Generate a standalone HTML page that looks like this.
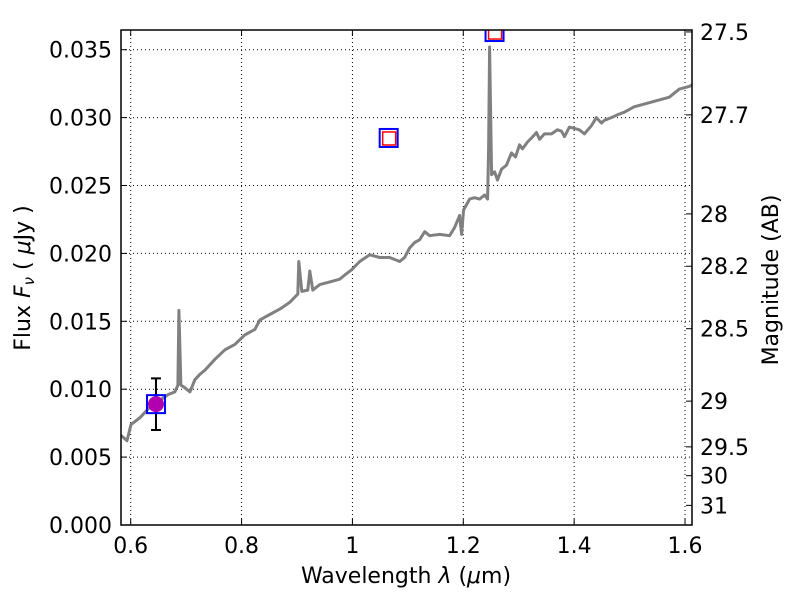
<!DOCTYPE html>
<html><head><meta charset="utf-8"><style>
body{margin:0;background:#fff}
svg text{font-family:"DejaVu Sans","Liberation Sans",sans-serif;fill:#000}
</style></head><body>
<svg id="chart" width="800" height="600" viewBox="0 0 800 600" xmlns="http://www.w3.org/2000/svg">
<rect width="800" height="600" fill="#fff"/>
<g id="grid"></g>
<g id="series"></g>
<g id="axes"></g>
<text x="406" y="583" font-size="22" text-anchor="middle">Wavelength  <tspan font-style="italic">λ</tspan> (<tspan font-style="italic">μ</tspan>m)</text>
<text transform="translate(30,278) rotate(-90)" font-size="22" text-anchor="middle">Flux  <tspan font-style="italic">F<tspan font-size="15" dy="4">ν</tspan></tspan><tspan dy="-4">  ( </tspan><tspan font-style="italic">μ</tspan>Jy )</text>
<text transform="translate(778,280) rotate(-90)" font-size="22" text-anchor="middle">Magnitude (AB)</text>
</svg>
<script>
const wavelengths=[0.5825,0.5933,0.6005,0.6168,0.6348,0.6528,0.6672,0.6798,0.6852,0.687,0.6906,0.6978,0.7068,0.7159,0.7249,0.7339,0.7519,0.7699,0.7879,0.8059,0.824,0.833,0.851,0.869,0.887,0.9015,0.9033,0.9087,0.9195,0.9231,0.9285,0.9411,0.9591,0.9771,0.9861,0.9987,1.0131,1.0311,1.0492,1.0672,1.0852,1.0942,1.1032,1.1122,1.1212,1.1303,1.1393,1.1573,1.1753,1.1843,1.1933,1.1969,1.2005,1.2114,1.2204,1.2294,1.2384,1.2438,1.2456,1.2474,1.251,1.2564,1.2618,1.269,1.278,1.287,1.2942,1.3014,1.3068,1.3158,1.323,1.332,1.3374,1.3465,1.3591,1.3699,1.3771,1.3825,1.3915,1.4095,1.4185,1.4311,1.4401,1.4491,1.4545,1.4671,1.4779,1.4905,1.5085,1.5355,1.5716,1.5896,1.6076,1.613];
const fluxes=[0.0066,0.0062,0.0074,0.0079,0.0087,0.0092,0.0096,0.0098,0.0103,0.0158,0.0103,0.0101,0.0098,0.0107,0.0111,0.0114,0.0122,0.0129,0.0133,0.014,0.0144,0.0151,0.0155,0.0159,0.0164,0.017,0.0194,0.0172,0.0173,0.0187,0.0173,0.0177,0.0179,0.0181,0.0184,0.0188,0.0194,0.0199,0.0197,0.0197,0.0194,0.0197,0.0204,0.0208,0.021,0.0216,0.0213,0.0214,0.0213,0.0219,0.0228,0.0214,0.0232,0.024,0.0241,0.024,0.0243,0.024,0.0277,0.0352,0.0258,0.026,0.0254,0.0262,0.0265,0.0274,0.0271,0.028,0.0277,0.0282,0.0285,0.0289,0.0284,0.0288,0.0288,0.0291,0.029,0.0286,0.0293,0.0291,0.0288,0.0294,0.03,0.0296,0.0298,0.03,0.0302,0.0304,0.0308,0.0311,0.0315,0.0321,0.0323,0.0324];
const photWave=[0.6456,1.0654,1.2564];
const photFlux=[0.0089,0.0285,0.0363];
const measWave=[0.6456];
const measFlux=[0.0089];
const measErr=[0.0019];
const xTicks=[0.6,0.8,1.0,1.2,1.4,1.6];
const xTickLabels=["0.6","0.8","1","1.2","1.4","1.6"];
const yTicks=[0,0.005,0.01,0.015,0.02,0.025,0.03,0.035];
const yTickLabels=["0.000","0.005","0.010","0.015","0.020","0.025","0.030","0.035"];
const magTicks=[27.5,27.7,28,28.2,28.5,29,29.5,30,31];
const magTickLabels=["27.5","27.7","28","28.2","28.5","29","29.5","30","31"];

const L=121,R=692,T=30,B=525;
const xmin=0.5825,xmax=1.6126,ymin=0,ymax=0.03645;
const NS="http://www.w3.org/2000/svg";
function X(v){return L+(v-xmin)/(xmax-xmin)*(R-L);}
function Y(v){return B-(v-ymin)/(ymax-ymin)*(B-T);}
function magToFlux(m){return Math.pow(10,(23.9-m)/2.5);}
function mk(tag,attrs,parent){const e=document.createElementNS(NS,tag);for(const k in attrs)e.setAttribute(k,attrs[k]);parent.appendChild(e);return e;}
const grid=document.getElementById('grid'),axes=document.getElementById('axes'),ser=document.getElementById('series');

xTicks.forEach((t,i)=>{
  const x=X(t);
  const g=mk('line',{x1:x,x2:x,y1:T,y2:B,stroke:'#000','stroke-width':1,'stroke-dasharray':'1,3'},grid);
  
  
  const tk=mk('line',{x1:x,x2:x,y1:B,y2:B-6,stroke:'#000'},axes);
  
  
  const tk2=mk('line',{x1:x,x2:x,y1:T,y2:T+6,stroke:'#000'},axes);
  
  
  const tx=mk('text',{x:x,y:B+28,'font-size':22,'text-anchor':'middle'},axes);
  tx.textContent=xTickLabels[i];
  
  
});
yTicks.forEach((t,i)=>{
  const y=Y(t);
  const g=mk('line',{x1:L,x2:R,y1:y,y2:y,stroke:'#000','stroke-width':1,'stroke-dasharray':'1,3'},grid);
  
  
  const tk=mk('line',{x1:L,x2:L+6,y1:y,y2:y,stroke:'#000'},axes);
  
  
  const tx=mk('text',{x:L-9,y:y+8,'font-size':22,'text-anchor':'end'},axes);
  tx.textContent=yTickLabels[i];
  
  
});
magTicks.forEach((m,i)=>{
  const y=Y(magToFlux(m));
  const tk=mk('line',{x1:R,x2:R-6,y1:y,y2:y,stroke:'#000'},axes);
  
  
  const tx=mk('text',{x:R+8,y:y+8,'font-size':22},axes);
  tx.textContent=magTickLabels[i];
  
  
});
const frame=mk('rect',{x:L,y:T,width:R-L,height:B-T,fill:'none',stroke:'#000','stroke-width':1.5},axes);



const clip=mk('clipPath',{id:'pc'},ser);
mk('rect',{x:L,y:T,width:R-L,height:B-T},clip);
const pts=wavelengths.map((w,i)=>X(w).toFixed(1)+','+Y(fluxes[i]).toFixed(1)).join(' ');
const line=mk('polyline',{points:pts,fill:'none',stroke:'#808080','stroke-width':3,'stroke-linejoin':'round','clip-path':'url(#pc)'},ser);



measWave.forEach((w,i)=>{
  const x=X(w),y1=Y(measFlux[i]-measErr[i]),y2=Y(measFlux[i]+measErr[i]);
  const e=mk('path',{d:`M${x},${y1}V${y2}M${x-5},${y1}H${x+5}M${x-5},${y2}H${x+5}`,stroke:'#000','stroke-width':2,fill:'none'},ser);
  
  
  const c=mk('circle',{cx:x,cy:Y(measFlux[i]),r:8,fill:'#b000b0'},ser);
  
  
});
photWave.forEach((w,i)=>{
  const x=X(w),y=Y(photFlux[i]);
  const b=mk('rect',{x:x-9,y:y-9,width:18,height:18,fill:'none',stroke:'#0000ff','stroke-width':2,'clip-path':'url(#pc)'},ser);
  
  
  if(i>0){
    const r=mk('rect',{x:x-6,y:y-6,width:13,height:13,fill:'none',stroke:'#ff0000','stroke-width':1.5,'clip-path':'url(#pc)'},ser);
    
    
  }
});
</script>
</body></html>
